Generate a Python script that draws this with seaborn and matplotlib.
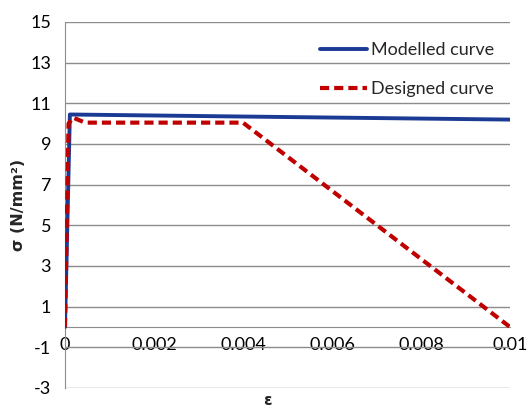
import matplotlib
matplotlib.use("Agg")
import matplotlib.pyplot as plt
import seaborn as sns
import pandas as pd

# strain / stress values
modelled_strain = [0.0, 0.00011, 0.004, 0.01]
modelled_stress = [0.0, 10.45, 10.35, 10.2]

designed_strain = [0.0, 0.00008, 0.00018, 0.00045, 0.004, 0.01]
designed_stress = [0.0, 10.0, 10.3, 10.05, 10.05, 0.0]

y_ticks = [-3, -1, 1, 3, 5, 7, 9, 11, 13, 15]
x_ticks = [0, 0.002, 0.004, 0.006, 0.008, 0.01]
x_tick_labels = ["0", "0.002", "0.004", "0.006", "0.008", "0.01"]

sns.set_style("white")
plt.rcParams["font.family"] = ["Lato", "DejaVu Sans"]
plt.rcParams["axes.unicode_minus"] = False

fig = plt.figure(figsize=(5.27, 4.11), dpi=100)
ax = fig.add_axes([0.1233, 0.056, 0.8444, 0.8905])

df_mod = pd.DataFrame({"strain": modelled_strain, "stress": modelled_stress})
df_des = pd.DataFrame({"strain": designed_strain, "stress": designed_stress})

sns.lineplot(data=df_mod, x="strain", y="stress", ax=ax, color="#1B3A93",
             linewidth=2.8, label="Modelled curve", sort=False, zorder=3)
sns.lineplot(data=df_des, x="strain", y="stress", ax=ax, color="#C00000",
             linewidth=3.0, linestyle=(0, (2.2, 1.2)), label="Designed curve",
             sort=False, zorder=4)

ax.set_xlim(0, 0.01)
ax.set_ylim(-3, 15)
ax.set_yticks(y_ticks)
ax.set_xticks(x_ticks)
ax.set_xticklabels(x_tick_labels)
ax.yaxis.grid(True, color="#8c8c8c", linewidth=1)
ax.set_axisbelow(True)

for s in ["top", "right"]:
    ax.spines[s].set_visible(False)
ax.spines["left"].set_color("#8c8c8c")
ax.spines["bottom"].set_color("#8c8c8c")
ax.spines["bottom"].set_position(("data", 0))
ax.tick_params(axis="both", length=0, labelsize=13, colors="black")
ax.tick_params(axis="x", pad=7)
ax.tick_params(axis="y", pad=10)

ax.set_ylabel("σ (N/mm²)", fontsize=11.5, fontweight="bold",
              family="DejaVu Sans")
ax.yaxis.set_label_coords(-0.088, 0.5)
ax.set_xlabel("ε", fontsize=11, fontweight="bold", family="DejaVu Sans")
ax.xaxis.set_label_coords(0.455, -0.015)

leg = ax.legend(loc="upper right", bbox_to_anchor=(1.0, 0.99), frameon=False,
                fontsize=13, handlelength=2.6, handletextpad=0.2,
                labelspacing=1.3)

fig.savefig("out.png", dpi=100)
